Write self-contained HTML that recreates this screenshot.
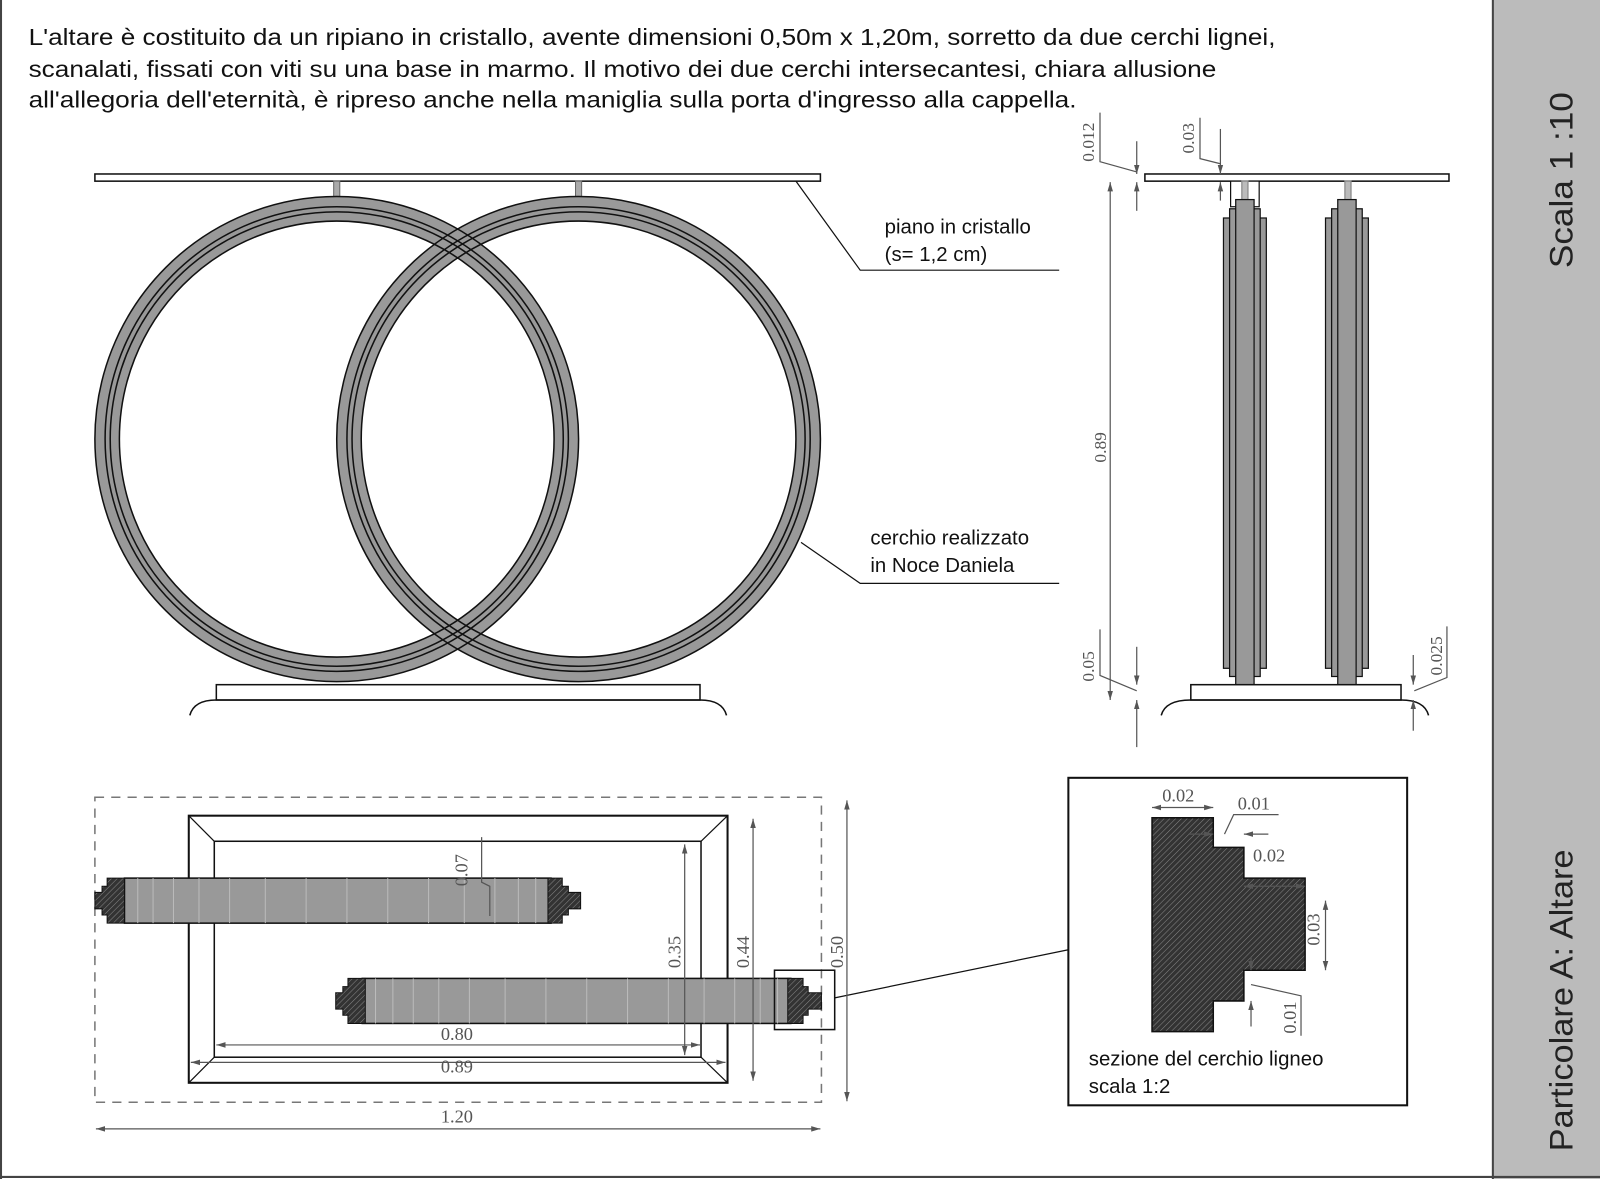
<!DOCTYPE html>
<html><head><meta charset="utf-8"><style>
html,body{margin:0;padding:0;background:#fff;}
svg{display:block;}
text{font-family:"Liberation Sans",sans-serif;}
.ser text{font-family:"Liberation Serif",serif;fill:#555;}
</style></head><body>
<svg width="1600" height="1179" viewBox="0 0 1568 1152" preserveAspectRatio="none" xmlns="http://www.w3.org/2000/svg">
<defs>
<pattern id="h" width="4" height="4" patternUnits="userSpaceOnUse" patternTransform="rotate(45)">
<rect width="4" height="4" fill="#333"/><line x1="0" y1="0" x2="0" y2="4" stroke="#888" stroke-width="1"/>
</pattern>
<marker id="a" viewBox="0 0 10 10" refX="10" refY="5" markerWidth="9" markerHeight="9" orient="auto-start-reverse" markerUnits="userSpaceOnUse"><path d="M0,2 L10,5 L0,8 z" fill="#555"/></marker>
</defs>
<rect width="1568" height="1152" fill="#fff"/>
<rect x="1463" y="0" width="105" height="1152" fill="#bbb"/>
<line x1="1463" y1="0" x2="1463" y2="1152" stroke="#444" stroke-width="2"/>
<line x1="0" y1="1150" x2="1568" y2="1150" stroke="#444" stroke-width="2"/>
<line x1="1" y1="0" x2="1" y2="1152" stroke="#444" stroke-width="2"/>
<text transform="translate(1541,262) rotate(-90)" font-size="32" fill="#222" textLength="172" lengthAdjust="spacingAndGlyphs">Scala 1 :10</text>
<text transform="translate(1541,1125) rotate(-90)" font-size="32" fill="#222" textLength="295" lengthAdjust="spacingAndGlyphs">Particolare A: Altare</text>
<g font-size="23" fill="#111">
<text x="28" y="44" textLength="1222" lengthAdjust="spacingAndGlyphs">L'altare è costituito da un ripiano in cristallo, avente dimensioni 0,50m x 1,20m, sorretto da  due cerchi lignei,</text>
<text x="28" y="75" textLength="1164" lengthAdjust="spacingAndGlyphs">scanalati, fissati con viti su una base in marmo. Il motivo dei due cerchi intersecantesi, chiara allusione</text>
<text x="28" y="105" textLength="1027" lengthAdjust="spacingAndGlyphs">all'allegoria dell'eternità, è ripreso anche nella maniglia sulla porta d'ingresso alla cappella.</text>
</g>
<rect x="93" y="170" width="711" height="7" fill="#fff" stroke="#111" stroke-width="1.5"/>
<rect x="327" y="177" width="6" height="16" fill="#aaa" stroke="#666"/>
<rect x="564" y="177" width="6" height="16" fill="#aaa" stroke="#666"/>
<g fill="none">
<circle cx="330" cy="429" r="225" stroke="#999" stroke-width="24"/>
<circle cx="567" cy="429" r="225" stroke="#999" stroke-width="24"/>
<g stroke="#111" stroke-width="1.5">
<circle cx="330" cy="429" r="237"/><circle cx="330" cy="429" r="213"/>
<circle cx="330" cy="429" r="227"/><circle cx="330" cy="429" r="222"/>
<circle cx="567" cy="429" r="237"/><circle cx="567" cy="429" r="213"/>
<circle cx="567" cy="429" r="227"/><circle cx="567" cy="429" r="222"/>
</g></g>
<rect x="212" y="669" width="474" height="15" fill="#fff" stroke="#111" stroke-width="1.5"/>
<path d="M186,699 Q190,684 212,684 L686,684 Q708,684 712,699" fill="none" stroke="#111" stroke-width="1.5"/>
<polyline points="780,177 843,264 1038,264" fill="none" stroke="#111" stroke-width="1.2"/>
<polyline points="785,530 843,570 1038,570" fill="none" stroke="#111" stroke-width="1.2"/>
<g font-size="20" fill="#111">
<text x="867" y="228">piano in cristallo</text><text x="867" y="255">(s= 1,2 cm)</text>
<text x="853" y="532">cerchio realizzato</text><text x="853" y="559">in Noce Daniela</text>
</g>
<rect x="1122" y="170" width="298" height="7" fill="#fff" stroke="#111" stroke-width="1.5"/>
<rect x="1206" y="177" width="28" height="25" fill="#fff" stroke="#111" stroke-width="1.2"/>
<g stroke="#111" stroke-width="1.2" fill="#999">
<rect x="1217" y="177" width="6" height="20" fill="#bbb" stroke="#888"/>
<rect x="1199" y="213" width="42" height="440"/><rect x="1205" y="204" width="30" height="457"/><rect x="1211" y="195" width="18" height="474"/>
<rect x="1318" y="177" width="6" height="20" fill="#bbb" stroke="#888"/>
<rect x="1299" y="213" width="42" height="440"/><rect x="1305" y="204" width="30" height="457"/><rect x="1311" y="195" width="18" height="474"/>
</g>
<rect x="1167" y="669" width="206" height="15" fill="#fff" stroke="#111" stroke-width="1.5"/>
<path d="M1138,699 Q1142,684 1167,684 L1373,684 Q1396,684 1400,699" fill="none" stroke="#111" stroke-width="1.5"/>
<g stroke="#555" stroke-width="1.2" fill="none">
<line x1="1088" y1="178" x2="1088" y2="684" marker-start="url(#a)" marker-end="url(#a)"/>
<line x1="1114" y1="138" x2="1114" y2="170" marker-end="url(#a)"/><line x1="1114" y1="206" x2="1114" y2="178" marker-end="url(#a)"/>
<polyline points="1078,110 1078,158 1114,168"/>
<line x1="1196" y1="126" x2="1196" y2="170" marker-end="url(#a)"/><line x1="1196" y1="196" x2="1196" y2="178" marker-end="url(#a)"/>
<polyline points="1176,115 1176,155 1196,160"/>
<line x1="1114" y1="632" x2="1114" y2="669" marker-end="url(#a)"/><line x1="1114" y1="730" x2="1114" y2="684" marker-end="url(#a)"/>
<polyline points="1078,615 1078,660 1114,675"/>
<line x1="1385" y1="640" x2="1385" y2="669" marker-end="url(#a)"/><line x1="1385" y1="714" x2="1385" y2="684" marker-end="url(#a)"/>
<polyline points="1418,612 1418,662 1386,675"/>
</g>
<g class="ser" font-size="17">
<text transform="translate(1084,452) rotate(-90)">0.89</text>
<text transform="translate(1072,158) rotate(-90)">0.012</text>
<text transform="translate(1170,150) rotate(-90)">0.03</text>
<text transform="translate(1072,666) rotate(-90)">0.05</text>
<text transform="translate(1413,660) rotate(-90)">0.025</text>
</g>
<rect x="93" y="779" width="712" height="298" fill="none" stroke="#777" stroke-width="1.5" stroke-dasharray="9,7"/>
<rect x="185" y="797" width="528" height="261" fill="#fff" stroke="#111" stroke-width="2"/>
<rect x="210" y="822" width="477" height="211" fill="none" stroke="#111" stroke-width="1.5"/>
<g stroke="#111" stroke-width="1.2"><line x1="185" y1="797" x2="210" y2="822"/><line x1="713" y1="797" x2="687" y2="822"/><line x1="185" y1="1058" x2="210" y2="1033"/><line x1="713" y1="1058" x2="687" y2="1033"/></g>
<g>
<rect x="122" y="858" width="418" height="44" fill="#999" stroke="#111" stroke-width="1.5"/>
<g stroke="#bbb" stroke-width="1">
<line x1="135" y1="858" x2="135" y2="902"/><line x1="150" y1="858" x2="150" y2="902"/><line x1="170" y1="858" x2="170" y2="902"/><line x1="195" y1="858" x2="195" y2="902"/><line x1="225" y1="858" x2="225" y2="902"/><line x1="260" y1="858" x2="260" y2="902"/><line x1="300" y1="858" x2="300" y2="902"/><line x1="340" y1="858" x2="340" y2="902"/><line x1="380" y1="858" x2="380" y2="902"/><line x1="420" y1="858" x2="420" y2="902"/><line x1="455" y1="858" x2="455" y2="902"/><line x1="485" y1="858" x2="485" y2="902"/><line x1="508" y1="858" x2="508" y2="902"/><line x1="525" y1="858" x2="525" y2="902"/>
</g>
<path d="M122,858 L105,858 L105,866 L100,866 L100,872 L93,872 L93,888 L100,888 L100,894 L105,894 L105,902 L122,902 z" fill="url(#h)" stroke="#111"/>
<path d="M537,858 L551,858 L551,866 L557,866 L557,872 L569,872 L569,888 L557,888 L557,894 L551,894 L551,902 L537,902 z" fill="url(#h)" stroke="#111"/>
</g>
<g>
<rect x="355" y="956" width="420" height="44" fill="#999" stroke="#111" stroke-width="1.5"/>
<g stroke="#bbb" stroke-width="1">
<line x1="368" y1="956" x2="368" y2="1000"/><line x1="385" y1="956" x2="385" y2="1000"/><line x1="405" y1="956" x2="405" y2="1000"/><line x1="430" y1="956" x2="430" y2="1000"/><line x1="460" y1="956" x2="460" y2="1000"/><line x1="495" y1="956" x2="495" y2="1000"/><line x1="535" y1="956" x2="535" y2="1000"/><line x1="575" y1="956" x2="575" y2="1000"/><line x1="615" y1="956" x2="615" y2="1000"/><line x1="655" y1="956" x2="655" y2="1000"/><line x1="690" y1="956" x2="690" y2="1000"/><line x1="720" y1="956" x2="720" y2="1000"/><line x1="745" y1="956" x2="745" y2="1000"/><line x1="762" y1="956" x2="762" y2="1000"/>
</g>
<path d="M358,956 L341,956 L341,964 L336,964 L336,970 L329,970 L329,986 L336,986 L336,992 L341,992 L341,1000 L358,1000 z" fill="url(#h)" stroke="#111"/>
<path d="M772,956 L787,956 L787,964 L792,964 L792,970 L805,970 L805,986 L792,986 L792,992 L787,992 L787,1000 L772,1000 z" fill="url(#h)" stroke="#111"/>
</g>
<rect x="759" y="948" width="59" height="58" fill="none" stroke="#111" stroke-width="1.5"/>
<line x1="818" y1="975" x2="1047" y2="928" stroke="#111" stroke-width="1.2"/>
<g stroke="#555" stroke-width="1.2" fill="none">
<line x1="212" y1="1021" x2="686" y2="1021" marker-start="url(#a)" marker-end="url(#a)"/>
<line x1="187" y1="1038" x2="711" y2="1038" marker-start="url(#a)" marker-end="url(#a)"/>
<line x1="94" y1="1103" x2="804" y2="1103" marker-start="url(#a)" marker-end="url(#a)"/>
<line x1="671" y1="825" x2="671" y2="1031" marker-start="url(#a)" marker-end="url(#a)"/>
<line x1="738" y1="800" x2="738" y2="1056" marker-start="url(#a)" marker-end="url(#a)"/>
<line x1="830" y1="782" x2="830" y2="1076" marker-start="url(#a)" marker-end="url(#a)"/>
<polyline points="472,818 472,862 480,866 480,895"/>
</g>
<g class="ser" font-size="18">
<text x="432" y="1016">0.80</text><text x="432" y="1048">0.89</text><text x="432" y="1097">1.20</text>
<text transform="translate(667,946) rotate(-90)">0.35</text>
<text transform="translate(734,946) rotate(-90)">0.44</text>
<text transform="translate(826,946) rotate(-90)">0.50</text>
<text transform="translate(458,866) rotate(-90)">0.07</text>
</g>
<rect x="1047" y="760" width="332" height="320" fill="#fff" stroke="#111" stroke-width="2"/>
<path d="M1129,799 L1189,799 L1189,828 L1219,828 L1219,858 L1279,858 L1279,948 L1219,948 L1219,978 L1189,978 L1189,1008 L1129,1008 z" fill="url(#h)" stroke="#111" stroke-width="1.5"/>
<g stroke="#555" stroke-width="1.2" fill="none">
<line x1="1129" y1="789" x2="1189" y2="789" marker-start="url(#a)" marker-end="url(#a)"/>
<line x1="1219" y1="866" x2="1279" y2="866" marker-start="url(#a)" marker-end="url(#a)"/>
<line x1="1299" y1="880" x2="1299" y2="948" marker-start="url(#a)" marker-end="url(#a)"/>
<line x1="1165" y1="815" x2="1189" y2="815" marker-end="url(#a)"/>
<line x1="1243" y1="815" x2="1219" y2="815" marker-end="url(#a)"/>
<polyline points="1200,815 1209,796 1253,796"/>
<line x1="1226" y1="935" x2="1226" y2="948" marker-end="url(#a)"/>
<line x1="1226" y1="1003" x2="1226" y2="978" marker-end="url(#a)"/>
<polyline points="1226,962 1275,973 1275,1012"/>
</g>
<g class="ser" font-size="18">
<text x="1139" y="783">0.02</text><text x="1213" y="791">0.01</text><text x="1228" y="842">0.02</text>
<text transform="translate(1293,924) rotate(-90)">0.03</text>
<text transform="translate(1270,1010) rotate(-90)">0.01</text>
</g>
<text x="1067" y="1041" font-size="20" fill="#111">sezione del cerchio ligneo</text>
<text x="1067" y="1068" font-size="20" fill="#111">scala 1:2</text>
</svg>
</body></html>
